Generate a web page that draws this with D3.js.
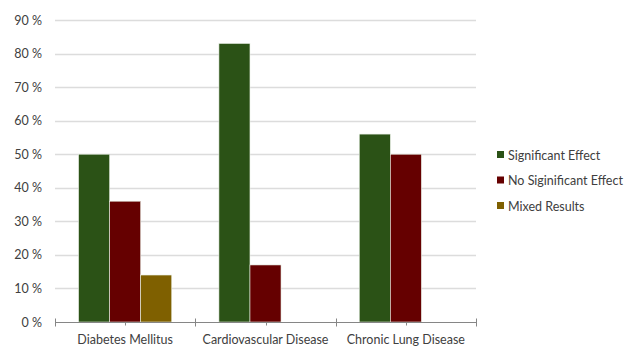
<!DOCTYPE html>
<html>
<head>
<meta charset="utf-8">
<script src="https://cdnjs.cloudflare.com/ajax/libs/d3/7.8.5/d3.min.js"></script>
<style>
  body { margin: 0; background: #fff; }
  text { font-family: Lato, "Open Sans", sans-serif; fill: #404040; }
</style>
</head>
<body>
<div class="chart_area"></div>
<script>
// data
var categories = ["Diabetes Mellitus", "Cardiovascular Disease", "Chronic Lung Disease"];
var seriesNames = ["Significant Effect", "No Siginificant Effect", "Mixed Results"];
var significant = [50, 83, 56];
var noSignificant = [36, 17, 50];
var mixed = [14, 0, 0];
var yTicks = [0, 10, 20, 30, 40, 50, 60, 70, 80, 90];

var seriesColors = ["#2b5216", "#650000", "#7f6000"];
var seriesValues = [significant, noSignificant, mixed];

var width = 636, height = 347;
var margin = { top: 20, right: 160, bottom: 25, left: 55 };

var svg = d3.select(".chart_area")
    .append("svg")
    .attr("width", width)
    .attr("height", height);

// x scales
var x0 = d3.scaleBand()
    .domain(categories)
    .range([margin.left, width - margin.right])
    .paddingInner(0)
    .paddingOuter(0);

var x1 = d3.scaleBand()
    .domain(seriesNames)
    .range([0, x0.bandwidth()])
    .paddingInner(0)
    .paddingOuter(0.76);

// y scale
var y = d3.scaleLinear()
    .domain([0, 90])
    .range([height - margin.bottom, margin.top]);

// gridlines
svg.append("g")
    .selectAll("line")
    .data(yTicks.slice(1))
    .enter()
    .append("line")
    .attr("x1", margin.left)
    .attr("x2", width - margin.right)
    .attr("y1", function(d) { return Math.round(y(d)) + 0.5; })
    .attr("y2", function(d) { return Math.round(y(d)) + 0.5; })
    .style("stroke", "#dcdcdc")
    .style("stroke-width", 1.3);

// y labels
svg.append("g")
    .selectAll("text")
    .data(yTicks)
    .enter()
    .append("text")
    .attr("x", 42)
    .attr("y", function(d) { return y(d) + 4.5; })
    .attr("text-anchor", "end")
    .style("font-size", "12.5px")
    .text(function(d) { return d + " %"; });

// bars
seriesNames.forEach(function(name, s) {
    svg.append("g")
      .selectAll("rect")
      .data(categories.filter(function(c, i) { return seriesValues[s][i] > 0; }))
      .enter()
      .append("rect")
        .attr("x", function(c) { return x0(c) + x1(name); })
        .attr("width", x1.bandwidth())
        .attr("y", function(c) { return y(seriesValues[s][categories.indexOf(c)]); })
        .attr("height", function(c) { return y(0) - y(seriesValues[s][categories.indexOf(c)]); })
        .attr("fill", seriesColors[s])
        .style("stroke", "#e8efe4")
        .style("stroke-width", 0.6);
});

// x axis line and ticks
var axisY = Math.round(y(0)) + 0.5;
var xAxis = svg.append("g");
xAxis.append("line")
    .attr("x1", margin.left)
    .attr("x2", width - margin.right)
    .attr("y1", axisY)
    .attr("y2", axisY)
    .style("stroke", "#868686")
    .style("stroke-width", 1);

var boundaries = categories.map(function(c) { return x0(c); });
boundaries.push(width - margin.right);
xAxis.selectAll(".bound")
    .data(boundaries)
    .enter()
    .append("line")
    .attr("x1", function(d) { return Math.round(d) + 0.5; })
    .attr("x2", function(d) { return Math.round(d) + 0.5; })
    .attr("y1", axisY - 4)
    .attr("y2", axisY + 4)
    .style("stroke", "#868686");

xAxis.selectAll(".mid")
    .data(categories)
    .enter()
    .append("line")
    .attr("x1", function(c) { return Math.round(x0(c) + x0.bandwidth() / 2) + 0.5; })
    .attr("x2", function(c) { return Math.round(x0(c) + x0.bandwidth() / 2) + 0.5; })
    .attr("y1", axisY)
    .attr("y2", axisY + 3)
    .style("stroke", "#868686");

xAxis.selectAll("text")
    .data(categories)
    .enter()
    .append("text")
    .attr("x", function(c) { return x0(c) + x0.bandwidth() / 2; })
    .attr("y", 344)
    .attr("text-anchor", "middle")
    .style("font-size", "12.5px")
    .text(function(c) { return c; });

// legend
var legend = svg.append("g")
    .selectAll("g")
    .data(seriesNames)
    .enter()
    .append("g")
    .attr("transform", function(d, i) { return "translate(497," + (155 + i * 25.5) + ")"; });

legend.append("rect")
    .attr("x", 0)
    .attr("y", -4)
    .attr("width", 7)
    .attr("height", 7)
    .attr("fill", function(d, i) { return seriesColors[i]; });

legend.append("text")
    .attr("x", 11)
    .attr("y", 4.5)
    .style("font-size", "12.5px")
    .text(function(d) { return d; });
</script>
</body>
</html>
